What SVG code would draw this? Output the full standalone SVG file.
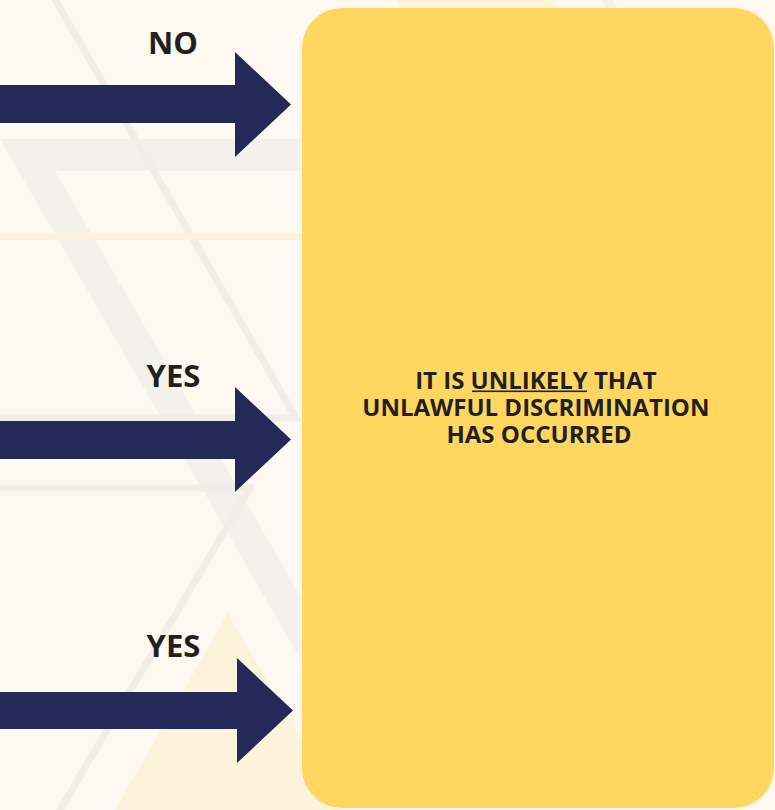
<svg xmlns="http://www.w3.org/2000/svg" width="775" height="810" viewBox="0 0 775 810">
  <defs>
    <style>
      .bg { fill: #fdf9f1; }
      .grey { fill: #f3f1eb; }
      .greyline { fill: none; stroke: #f1eee8; stroke-width: 7; }
      .cream { fill: #fdf3da; }
      .arrow { fill: #252958; }
      .label { font-family: "Open Sans", "Liberation Sans", sans-serif; font-weight: 700; fill: #231f20; text-anchor: middle; }
      .box { fill: #ffd760; }
    </style>
  </defs>

  <g id="background">
    <rect class="bg" x="0" y="0" width="775" height="810"/>
    <polygon class="grey" points="0,139 302,139 302,171 55,171 302,599 302,662"/>
    <polyline class="greyline" points="53,-4 296,418 0,418"/>
    <polyline class="greyline" points="0,488 250,488 57,815"/>
    <rect class="cream" x="0" y="233" width="302" height="7"/>
    <polygon class="cream" points="228,613 115,810 341,810"/>
    <polygon class="cream" points="397,0 553,0 558,9 402,9"/>
    <polygon class="grey" points="602,0 613,0 618,9 607,9"/>
  </g>

  <g id="connectors">
    <g id="arrow-no">
      <polygon class="arrow" points="0,85 235,85 235,52 291,104.5 235,157 235,123 0,123"/>
      <text class="label" x="173" y="54" font-size="31">NO</text>
    </g>
    <g id="arrow-yes-1">
      <polygon class="arrow" points="0,421 235,421 235,387 291,439.5 235,492 235,459 0,459"/>
      <text class="label" x="173.5" y="387" font-size="31">YES</text>
    </g>
    <g id="arrow-yes-2">
      <polygon class="arrow" points="0,692 237,692 237,658 293,710.5 237,763 237,729 0,729"/>
      <text class="label" x="173.5" y="657" font-size="31">YES</text>
    </g>
  </g>

  <g id="node-outcome">
    <rect class="box" x="302" y="8" width="472" height="800" rx="40" ry="40"/>
    <text class="label" font-size="24">
      <tspan x="539" y="389">IT IS UNLIKELY THAT</tspan>
      <tspan x="539" y="416">UNLAWFUL DISCRIMINATION</tspan>
      <tspan x="539" y="443">HAS OCCURRED</tspan>
    </text>
    <rect x="472" y="390.5" width="115" height="1.6" fill="#231f20"/>
  </g>
</svg>
